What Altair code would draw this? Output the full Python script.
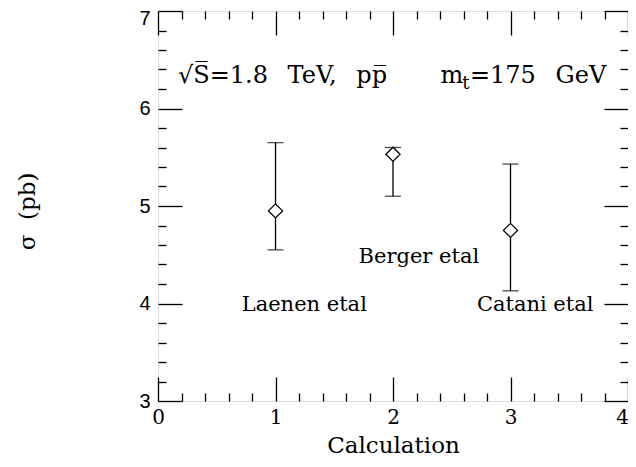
import altair as alt
import pandas as pd

# ---- data ----
calc = [1, 2, 3]
sigma = [4.95, 5.53, 4.75]
err_lo = [4.55, 5.10, 4.13]
err_hi = [5.65, 5.60, 5.43]

names = ["Laenen etal", "Berger etal", "Catani etal"]
name_x = [1.245, 2.22, 3.21]
name_y = [3.92, 4.42, 3.92]

SP = "\u2002\u00a0"
header_text = ["√S̅=1.8" + SP + "TeV," + SP + "pp̅", "m", "t", "=175" + SP + "GeV"]
header_x = [0.17, 2.405, 2.59, 2.655]
header_y = [6.26, 6.26, 6.20, 6.26]
header_size = [24, 24, 18, 24]

x_major = [0, 1, 2, 3, 4]
y_major = [3, 4, 5, 6, 7]
x_minor = [0.2, 0.4, 0.6, 0.8, 1.2, 1.4, 1.6, 1.8, 2.2, 2.4, 2.6, 2.8,
           3.2, 3.4, 3.6, 3.8]
y_minor = [3.2, 3.4, 3.6, 3.8, 4.2, 4.4, 4.6, 4.8, 5.2, 5.4, 5.6, 5.8,
           6.2, 6.4, 6.6, 6.8]

W, H = 470, 390
SERIF = "DejaVu Serif"

df = pd.DataFrame({"calc": calc, "sigma": sigma, "lo": err_lo, "hi": err_hi})
df_names = pd.DataFrame({"name": names, "x": name_x, "y": name_y})
df_head = pd.DataFrame({"t": header_text, "x": header_x, "y": header_y,
                        "s": header_size})

xs = alt.Scale(domain=[0, 4], nice=False, zero=False)
ys = alt.Scale(domain=[3, 7], nice=False, zero=False)


def tick_axis(orient, values, size):
    return alt.Axis(orient=orient, offset=-(H if orient in ("top", "bottom") else W),
                    values=values, tickSize=size, tickColor="black", tickWidth=1.3,
                    labels=False, domain=False, grid=False, title=None)


x_label_axis = alt.Axis(orient="bottom", values=x_major, ticks=False, domain=False,
                        grid=False, labelFont=SERIF, labelFontSize=20, labelColor="black",
                        labelPadding=6, labelFlush=False, format="d",
                        labelOffset={"condition": {"test": "datum.value == 4", "value": -6},
                                     "value": 0},
                        title="Calculation", titleFont=SERIF, titleFontSize=23,
                        titleFontWeight="normal", titleColor="black",
                        titleX=W / 2, titleY=51, titleBaseline="alphabetic",
                        titleAlign="center")
y_label_axis = alt.Axis(orient="left", values=y_major, ticks=False, domain=False,
                        grid=False, labelFont="Liberation Sans", labelFontSize=20,
                        labelColor="black", labelPadding=8, labelFlush=False, format="d",
                        labelOffset={"condition": {"test": "datum.value == 7", "value": 7},
                                     "value": 0},
                        title="σ\u00a0\u00a0(pb)", titleFont=SERIF, titleFontSize=23,
                        titleFontWeight="normal", titleColor="black",
                        titleX=-124, titleY=H / 2 + 5, titleAngle=270,
                        titleBaseline="alphabetic", titleAlign="center")

bars = alt.Chart(df).mark_rule(color="black", strokeWidth=1.3).encode(
    x=alt.X("calc:Q", scale=xs, axis=x_label_axis),
    y=alt.Y("lo:Q", scale=ys, axis=y_label_axis),
    y2="hi:Q",
)

caps_hi = alt.Chart(df).mark_tick(orient="horizontal", size=16, thickness=1.3,
                                   color="black").encode(
    x=alt.X("calc:Q", scale=xs, axis=tick_axis("top", x_major, 24)),
    y=alt.Y("hi:Q", scale=ys, axis=tick_axis("right", y_major, 24)),
)

caps_lo = alt.Chart(df).mark_tick(orient="horizontal", size=16, thickness=1.3,
                                   color="black").encode(
    x=alt.X("calc:Q", scale=xs, axis=tick_axis("top", x_minor, 8)),
    y=alt.Y("lo:Q", scale=ys, axis=tick_axis("right", y_minor, 8)),
)

points = alt.Chart(df).mark_point(shape="diamond", filled=True, fill="white",
                                  stroke="black", strokeWidth=1.3, size=200,
                                  opacity=1).encode(
    x=alt.X("calc:Q", scale=xs, axis=tick_axis("bottom", x_major, 24)),
    y=alt.Y("sigma:Q", scale=ys, axis=tick_axis("left", y_major, 24)),
)

labels = alt.Chart(df_names).mark_text(font=SERIF, fontSize=21, color="black",
                                       align="center", baseline="alphabetic").encode(
    x=alt.X("x:Q", scale=xs, axis=tick_axis("bottom", x_minor, 8)),
    y=alt.Y("y:Q", scale=ys, axis=tick_axis("left", y_minor, 8)),
    text="name:N",
)

header = alt.Chart(df_head).mark_text(font=SERIF, color="black",
                                      align="left", baseline="alphabetic").encode(
    x=alt.X("x:Q", scale=xs, axis=None),
    y=alt.Y("y:Q", scale=ys, axis=None),
    text="t:N",
    size=alt.Size("s:Q", scale=None, legend=None),
)

chart = alt.layer(bars, caps_hi, caps_lo, points, labels, header).resolve_axis(
    x="independent", y="independent"
).properties(
    width=W, height=H, autosize="none",
    padding={"left": 150, "top": 3, "right": 0, "bottom": 57},
).configure_view(stroke="black", strokeWidth=1.5).configure(background="white")

chart.save("out.html", embed_options={"renderer": "svg", "actions": False})
